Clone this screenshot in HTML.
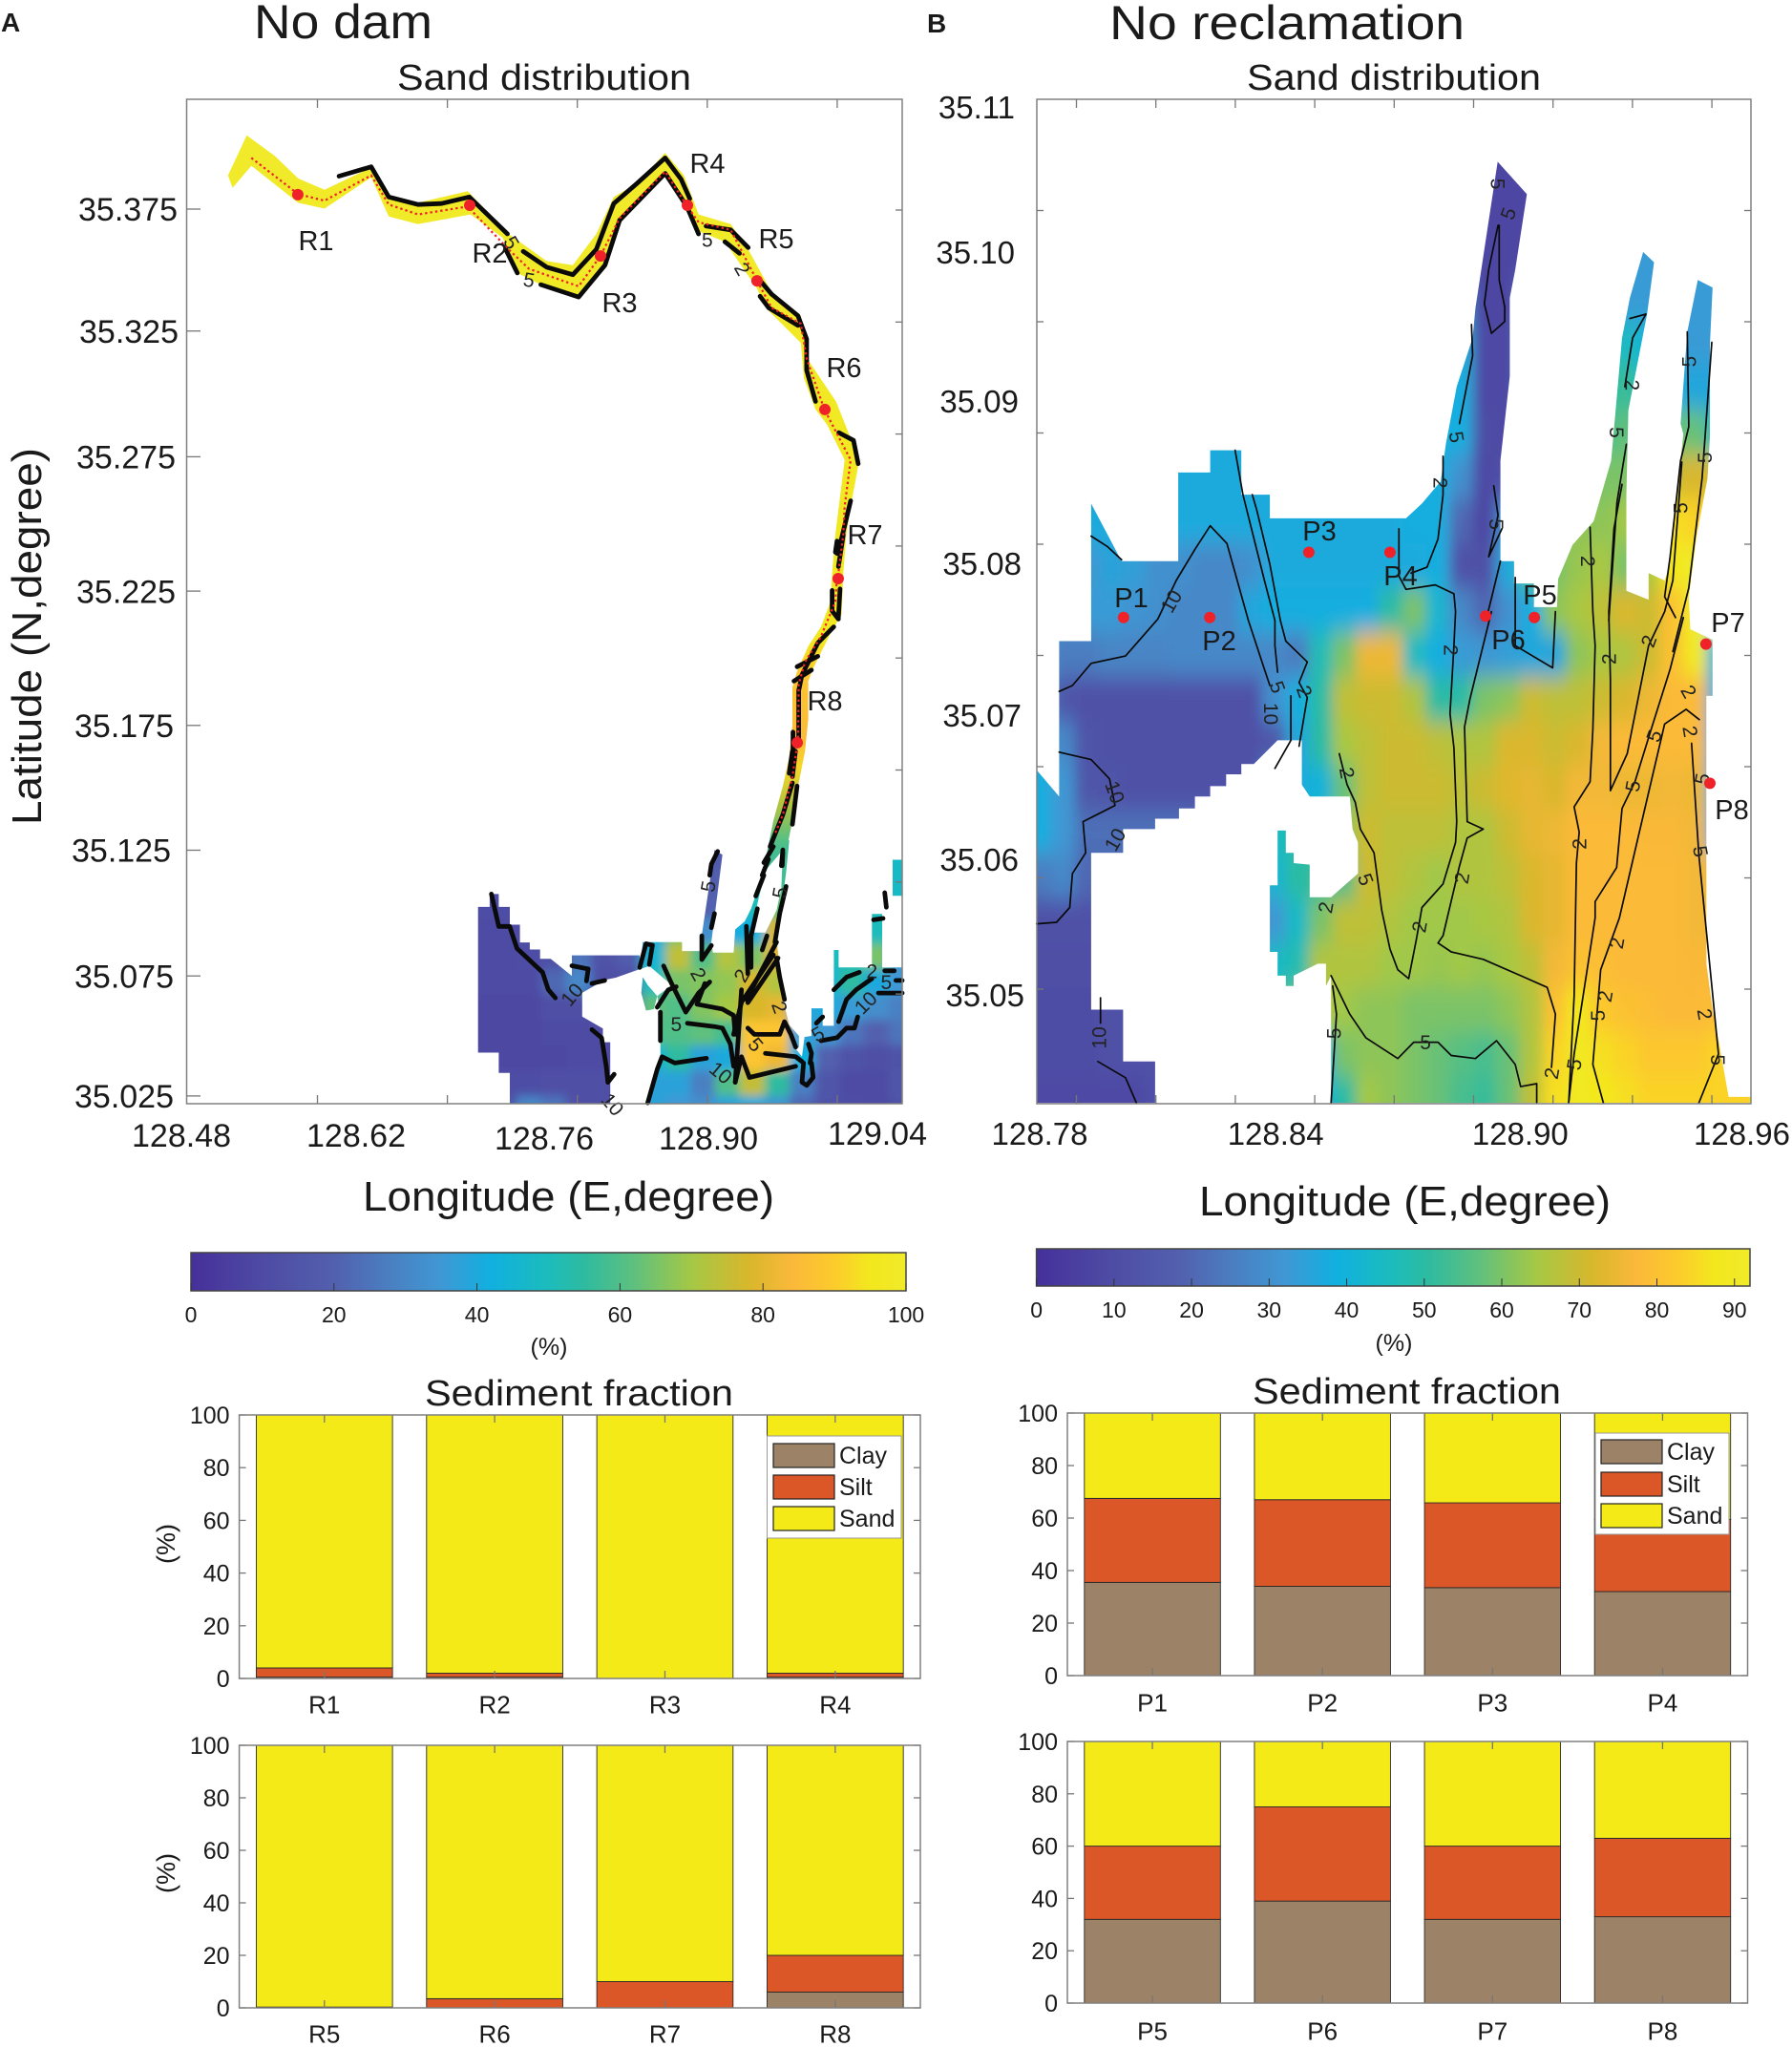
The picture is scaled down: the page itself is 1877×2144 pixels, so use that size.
<!DOCTYPE html>
<html lang="en">
<head>
<meta charset="utf-8">
<title>No dam / No reclamation sediment maps</title>
<style>
html,body{margin:0;padding:0;background:#fff}
svg{display:block;font-family:"Liberation Sans",sans-serif;fill:#1a1a1a}
</style>
</head>
<body>
<svg id="fig" xmlns="http://www.w3.org/2000/svg" width="1877" height="2144" viewBox="0 0 1877 2144">
<defs>
<filter id="blurL" filterUnits="userSpaceOnUse" x="300" y="700" width="800" height="600"><feGaussianBlur stdDeviation="5 5"/></filter>
<filter id="blurR" filterUnits="userSpaceOnUse" x="900" y="0" width="977" height="1400"><feGaussianBlur stdDeviation="7 12"/></filter>
<clipPath id="clipL"><path id="clipLPath" clip-rule="evenodd"/></clipPath>
<clipPath id="clipR"><path id="clipRPath" clip-rule="evenodd"/></clipPath>
<linearGradient id="barGradL" x1="0" x2="1" y1="0" y2="0"></linearGradient>
<linearGradient id="barGradR" x1="0" x2="1" y1="0" y2="0"></linearGradient>
<linearGradient id="stripGrad" gradientUnits="userSpaceOnUse" x1="0" x2="0"></linearGradient>
</defs>
<rect x="0" y="0" width="1877" height="2144" fill="#fff"/>

<text x="1" y="33" font-size="28" font-weight="bold">A</text>
<text x="971" y="34" font-size="28" font-weight="bold">B</text>
<text x="266" y="40" font-size="50" textLength="187" lengthAdjust="spacingAndGlyphs">No dam</text>
<text x="1162" y="41" font-size="50" textLength="372" lengthAdjust="spacingAndGlyphs">No reclamation</text>
<text x="416" y="94" font-size="38" textLength="308" lengthAdjust="spacingAndGlyphs">Sand distribution</text>
<text x="1306" y="94" font-size="38" textLength="308" lengthAdjust="spacingAndGlyphs">Sand distribution</text>
<text transform="translate(43,864) rotate(-90)" font-size="44" textLength="395" lengthAdjust="spacingAndGlyphs">Latitude (N,degree)</text>
<text x="380" y="1268" font-size="44" textLength="431" lengthAdjust="spacingAndGlyphs">Longitude (E,degree)</text>
<text x="1256" y="1273" font-size="44" textLength="431" lengthAdjust="spacingAndGlyphs">Longitude (E,degree)</text>

<g id="mapL"></g>
<g id="mapR"></g>
<g id="cbars"></g>

<text x="575" y="1419" font-size="25" text-anchor="middle">(%)</text>
<text x="1460" y="1415" font-size="25" text-anchor="middle">(%)</text>
<text x="445" y="1472" font-size="38" textLength="323" lengthAdjust="spacingAndGlyphs">Sediment fraction</text>
<text x="1312" y="1470" font-size="38" textLength="323" lengthAdjust="spacingAndGlyphs">Sediment fraction</text>
<text transform="translate(183,1617) rotate(-90)" font-size="27" text-anchor="middle">(%)</text>
<text transform="translate(183,1962) rotate(-90)" font-size="27" text-anchor="middle">(%)</text>

<g id="bars"></g>

<g>
<rect x="803.5" y="1504" width="140.5" height="107" fill="#fff" stroke="#999" stroke-width="1"/>
<rect x="810" y="1512" width="64" height="25" fill="#9c8266" stroke="#222" stroke-width="1.2"/>
<rect x="810" y="1545" width="64" height="25" fill="#dc5727" stroke="#222" stroke-width="1.2"/>
<rect x="810" y="1578" width="64" height="25" fill="#f3ea17" stroke="#222" stroke-width="1.2"/>
<text x="879" y="1533" font-size="25">Clay</text>
<text x="879" y="1566" font-size="25">Silt</text>
<text x="879" y="1599" font-size="25">Sand</text>
</g>
<g>
<rect x="1671" y="1501" width="140" height="106" fill="#fff" stroke="#999" stroke-width="1"/>
<rect x="1677" y="1508" width="64" height="25" fill="#9c8266" stroke="#222" stroke-width="1.2"/>
<rect x="1677" y="1542" width="64" height="25" fill="#dc5727" stroke="#222" stroke-width="1.2"/>
<rect x="1677" y="1575" width="64" height="25" fill="#f3ea17" stroke="#222" stroke-width="1.2"/>
<text x="1746" y="1529" font-size="25">Clay</text>
<text x="1746" y="1563" font-size="25">Silt</text>
<text x="1746" y="1596" font-size="25">Sand</text>
</g>
</svg>

<script>
/* ---------- sediment bars ---------- */
const barCatsA1 = ['R1','R2','R3','R4'];
const clayA1 = [0.5, 0.5, 0, 0.5];
const siltA1 = [3.5, 1.5, 0, 1.5];
const sandA1 = [96, 98, 100, 98];
const barCatsA2 = ['R5','R6','R7','R8'];
const clayA2 = [0, 0, 0, 6];
const siltA2 = [0.3, 3.5, 10, 14];
const sandA2 = [99.7, 96.5, 90, 80];
const barCatsB1 = ['P1','P2','P3','P4'];
const clayB1 = [35.5, 34, 33.5, 32];
const siltB1 = [32, 33, 32.3, 27.5];
const sandB1 = [32.5, 33, 34.2, 40.5];
const barCatsB2 = ['P5','P6','P7','P8'];
const clayB2 = [32, 39, 32, 33];
const siltB2 = [28, 36, 28, 30];
const sandB2 = [40, 25, 40, 37];
const barTicks = [0,20,40,60,80,100];

/* ---------- colorbar ---------- */
const cbTicksL = [0,20,40,60,80,100];
const cbTicksR = [0,10,20,30,40,50,60,70,80,90];
const cmapFrac = [0,.1,.2,.28,.35,.42,.5,.55,.62,.7,.78,.84,.9,.95,1];
const cmapHex = ['#45309a','#4e4ba4','#5260ae','#4a80c2','#3f98d4','#10b0e0','#1cbcbc','#2ebba0','#5fc07e','#a5c845','#d8b72c','#fbb83a','#fccb2c','#f3e81d','#f0ea2a'];

/* ---------- map A (No dam) ---------- */
const latTicksL = [35.375,35.325,35.275,35.225,35.175,35.125,35.075,35.025];
const lonTicksL = [128.48,128.62,128.76,128.90,129.04];
const stationNamesL = ['R1','R2','R3','R4','R5','R6','R7','R8'];
const stationLonL = [128.5738,128.7123,128.8177,128.8877,128.9438,128.9985,129.0092,128.9762];
const stationLatL = [35.3807,35.3765,35.3565,35.3765,35.3467,35.2959,35.2292,35.1644];
const heatLonL = [128.72,128.74,128.76,128.78,128.80,128.82,128.84,128.86,128.88,128.90,128.92,128.94,128.96,128.98,129.00,129.02,129.04,129.06];
const heatLatL = [35.12,35.11,35.10,35.09,35.08,35.07,35.06,35.05,35.04,35.03,35.02];
const heatL = [
[12,12,12,12,12,12,12,30,30,18,18,52,58,55,50,50,50,48],
[12,12,12,12,12,12,12,30,30,18,20,52,58,55,50,50,50,48],
[11,11,11,11,12,12,12,30,30,20,22,50,62,55,50,50,50,48],
[10,10,10,10,12,12,14,40,65,32,40,42,78,60,50,50,50,48],
[10,10,11,13,25,14,18,45,74,60,72,65,80,70,50,50,65,35],
[10,10,10,22,30,12,12,50,65,66,68,78,72,60,45,55,40,35],
[9,9,9,12,12,12,12,62,60,66,70,78,80,38,40,36,32,28],
[9,9,9,10,10,10,10,60,60,62,58,88,88,38,35,25,20,25],
[9,9,9,9,10,10,10,45,55,38,40,88,82,42,20,14,12,14],
[9,11,11,12,12,12,12,38,38,28,60,75,55,28,15,10,10,15],
[9,12,30,25,12,12,12,38,35,32,38,40,34,22,14,11,10,14]];
const maskL = [
[[128.7284,35.1047],[128.7357,35.1047],[128.7357,35.0996],[128.7446,35.0996],[128.7446,35.0926],[128.7528,35.0926],[128.7528,35.0856],[128.7607,35.0856],[128.7607,35.0828],[128.7690,35.0828],[128.7690,35.0791],[128.7775,35.0791],[128.7946,35.0724],[128.7946,35.0805],[128.8493,35.0805],[128.8491,35.0750],[128.8299,35.0717],[128.8211,35.0708],[128.8029,35.0657],[128.8029,35.0563],[128.8196,35.0516],[128.8196,35.0462],[128.8255,35.0462],[128.8255,35.0219],[128.7446,35.0219],[128.7446,35.0341],[128.7357,35.0341],[128.7357,35.0421],[128.7190,35.0421],[128.7190,35.0996],[128.7284,35.0996]],
[[128.8518,35.0857],[128.8834,35.0857],[128.8834,35.0822],[128.8993,35.0822],[128.8993,35.0885],[128.9095,35.1221],[128.9159,35.1202],[128.9070,35.0857],[128.9082,35.0816],[128.9249,35.0816],[128.9262,35.0907],[128.9339,35.0939],[128.9390,35.0989],[128.9518,35.1171],[128.9569,35.1259],[128.9698,35.1259],[128.9672,35.1133],[128.9634,35.0983],[128.9595,35.0870],[128.9646,35.0631],[128.9698,35.0531],[128.9775,35.0487],[128.9775,35.0443],[128.9749,35.0436],[128.9800,35.0405],[128.9821,35.0483],[128.9877,35.0487],[128.9877,35.0596],[128.9967,35.0596],[128.9967,35.0527],[129.0057,35.0527],[129.0057,35.0826],[129.0095,35.0826],[129.0095,35.0757],[129.0364,35.0757],[129.0364,35.0968],[129.0446,35.0968],[129.0446,35.0757],[129.0610,35.0757],[129.0610,35.0219],[128.8557,35.0219],[128.8659,35.0405],[128.8659,35.0581],[128.8634,35.0644],[128.8749,35.0688],[128.8570,35.0763],[128.8493,35.0750]],
[[128.9646,35.1221],[128.9505,35.1140],[128.9441,35.1008],[128.9416,35.0895],[128.9505,35.0895],[128.9595,35.0983],[128.9634,35.1071]],
[[128.8505,35.0656],[128.8544,35.0587],[128.8608,35.0593],[128.8634,35.0644],[128.8557,35.0688],[128.8518,35.0719]],
[[129.0531,35.1182],[129.0610,35.1182],[129.0610,35.1040],[129.0531,35.1040]]];
const stripLats = [35.40,35.205,35.19,35.165,35.155,35.14,35.125,35.115];
const stripSand = [100,96,88,85,92,72,60,55];
const stripOutline = [[128.5175,35.3883],[128.5326,35.4041],[128.5552,35.3960],[128.5741,35.3871],[128.5953,35.3826],[128.6329,35.3914],[128.6471,35.3798],[128.6706,35.3775],[128.7107,35.3821],[128.7436,35.3652],[128.7742,35.3545],[128.7954,35.3529],[128.8143,35.3652],[128.8284,35.3798],[128.8472,35.3852],[128.8698,35.3972],[128.8849,35.3883],[128.8967,35.3729],[128.9226,35.3691],[128.9367,35.3591],[128.9556,35.3421],[128.9791,35.3329],[128.9862,35.3145],[129.0074,35.2991],[129.0262,35.2760],[129.0192,35.2576],[129.0158,35.2465],[129.0133,35.2314],[129.0120,35.2151],[129.0030,35.2076],[128.9889,35.1937],[128.9851,35.1887],[128.9851,35.1737],[128.9825,35.1611],[128.9774,35.1485],[128.9723,35.1335],[128.9671,35.1209],[128.9517,35.1209],[128.9569,35.1335],[128.9646,35.1473],[128.9697,35.1586],[128.9723,35.1711],[128.9723,35.1862],[128.9761,35.1925],[128.9851,35.2025],[128.9953,35.2101],[129.0030,35.2201],[129.0043,35.2314],[129.0069,35.2465],[129.0097,35.2576],[129.0144,35.2760],[129.0003,35.2899],[128.9909,35.2960],[128.9815,35.3083],[128.9791,35.3222],[128.9509,35.3360],[128.9438,35.3437],[128.9179,35.3621],[128.8943,35.3668],[128.8849,35.3760],[128.8698,35.3891],[128.8331,35.3698],[128.8213,35.3545],[128.8001,35.3398],[128.7695,35.3452],[128.7507,35.3498],[128.7389,35.3637],[128.7130,35.3729],[128.6706,35.3691],[128.6471,35.3721],[128.6329,35.3875],[128.5953,35.3752],[128.5741,35.3775],[128.5364,35.3921],[128.5213,35.3834]];
const transectL = [[128.5364,35.3952],[128.5741,35.3809],[128.5953,35.3783],[128.6329,35.3883],[128.6471,35.3768],[128.6706,35.3729],[128.7107,35.3760],[128.7436,35.3591],[128.7601,35.3514],[128.8001,35.3445],[128.8176,35.3565],[128.8331,35.3714],[128.8698,35.3898],[128.8873,35.3763],[128.8967,35.3698],[128.9226,35.3668],[128.9438,35.3468],[128.9556,35.3360],[128.9791,35.3298],[128.9838,35.3160],[128.9980,35.2960],[129.0192,35.2760],[129.0144,35.2576],[129.0133,35.2465],[129.0094,35.2314],[129.0082,35.2295],[129.0069,35.2201],[128.9953,35.2063],[128.9825,35.1963],[128.9774,35.1875],[128.9769,35.1661],[128.9723,35.1510],[128.9646,35.1360],[128.9582,35.1284]];
const contoursL = [
[[128.6070,35.3880],[128.6329,35.3917],[128.6471,35.3798],[128.6706,35.3768],[128.6895,35.3772],[128.7120,35.3798],[128.7427,35.3652]],
[[128.7554,35.3583],[128.7742,35.3521],[128.7954,35.3491],[128.8143,35.3591],[128.8284,35.3772],[128.8472,35.3852],[128.8698,35.3952],[128.8826,35.3868],[128.8896,35.3791]],
[[128.8331,35.3706],[128.8698,35.3891],[128.8873,35.3760],[128.8967,35.3652]],
[[128.7413,35.3591],[128.7507,35.3498]],
[[128.7695,35.3452],[128.8001,35.3403],[128.8213,35.3529],[128.8331,35.3706]],
[[128.9028,35.3683],[128.9226,35.3668],[128.9367,35.3598]],
[[128.9179,35.3621],[128.9297,35.3575]],
[[128.9462,35.3468],[128.9556,35.3414],[128.9768,35.3329],[128.9838,35.3237],[128.9838,35.3114],[128.9909,35.2991]],
[[128.9462,35.3406],[128.9532,35.3360],[128.9768,35.3291]],
[[129.0097,35.2868],[129.0215,35.2837],[129.0253,35.2745]],
[[129.0192,35.2599],[129.0121,35.2453],[129.0083,35.2391]],
[[129.0133,35.2465],[129.0094,35.2339]],
[[129.0082,35.2440],[129.0069,35.2396]],
[[129.0043,35.2245],[129.0043,35.2164],[129.0094,35.2132]],
[[129.0107,35.2251],[129.0094,35.2138]],
[[129.0056,35.2101],[128.9928,35.2038],[128.9800,35.1912],[128.9774,35.1850],[128.9774,35.1661]],
[[128.9761,35.1944],[128.9928,35.1985]],
[[128.9735,35.1887],[128.9876,35.1931]],
[[128.9728,35.1686],[128.9728,35.1586]],
[[128.9723,35.1611],[128.9697,35.1523]],
[[128.9748,35.1611],[128.9723,35.1510]],
[[128.9723,35.1485],[128.9646,35.1360],[128.9543,35.1234]],
[[128.9761,35.1473],[128.9723,35.1322]],
[[128.9646,35.1209],[128.9641,35.1159]],
[[128.9530,35.1184],[128.9479,35.1121]],
[[128.9121,35.1215],[128.9070,35.1165],[128.9057,35.1121]],
[[128.9095,35.0970],[128.9070,35.0914]],
[[128.8993,35.0882],[128.8993,35.0788],[128.9070,35.0844]],
[[128.8685,35.0763],[128.8749,35.0694],[128.8864,35.0581],[128.8967,35.0656],[128.9057,35.0700]],
[[128.9018,35.0694],[128.8954,35.0612],[128.9159,35.0593],[128.9249,35.0568],[128.9262,35.0493]],
[[128.8634,35.0600],[128.8723,35.0669],[128.8787,35.0681]],
[[128.8659,35.0581],[128.8659,35.0468]],
[[128.8877,35.0537],[128.9095,35.0524],[128.9159,35.0518],[128.9223,35.0455],[128.9249,35.0367]],
[[128.8557,35.0223],[128.8634,35.0355],[128.8672,35.0405],[128.8775,35.0380],[128.9031,35.0399]],
[[128.9262,35.0304],[128.9313,35.0669]],
[[128.9262,35.0304],[128.9313,35.0405],[128.9377,35.0323],[128.9749,35.0367]],
[[128.9352,35.0631],[128.9595,35.0857]],
[[128.9364,35.0618],[128.9608,35.0794]],
[[128.9249,35.0493],[128.9313,35.0620],[128.9569,35.0807]],
[[128.9352,35.0920],[128.9364,35.0732]],
[[128.9441,35.0989],[128.9390,35.0882],[128.9390,35.0757]],
[[128.9493,35.1121],[128.9428,35.1039]],
[[128.9569,35.1234],[128.9493,35.1171]],
[[128.9672,35.1077],[128.9621,35.0970],[128.9582,35.0857]],
[[128.9646,35.1221],[128.9634,35.1159]],
[[128.9518,35.0882],[128.9480,35.0826]],
[[128.9595,35.0794],[128.9621,35.0719],[128.9659,35.0631]],
[[128.9364,35.0518],[128.9416,35.0493],[128.9621,35.0493],[128.9659,35.0543],[128.9711,35.0493],[128.9749,35.0443]],
[[128.9505,35.0418],[128.9749,35.0405],[128.9800,35.0386]],
[[128.9813,35.0380],[128.9800,35.0304],[128.9839,35.0292],[128.9890,35.0323],[128.9877,35.0380]],
[[128.9852,35.0455],[128.9877,35.0418],[128.9865,35.0380]],
[[128.9954,35.0468],[129.0082,35.0480],[129.0159,35.0518],[129.0223,35.0518],[129.0249,35.0562]],
[[129.0095,35.0543],[129.0159,35.0631],[129.0236,35.0669],[129.0364,35.0713]],
[[129.0057,35.0669],[129.0159,35.0719],[129.0262,35.0738]],
[[128.9916,35.0537],[128.9967,35.0562]],
[[129.0416,35.0656],[129.0608,35.0656]],
[[129.0377,35.0945],[129.0454,35.0951]],
[[129.0467,35.1052],[129.0480,35.0995]],
[[129.0467,35.0744],[129.0544,35.0744]],
[[129.0557,35.0706],[129.0608,35.0706]],
[[128.7298,35.1047],[128.7357,35.0919],[128.7445,35.0919],[128.7504,35.0832],[128.7710,35.0738],[128.7755,35.0670],[128.7813,35.0637]],
[[128.7946,35.0764],[128.8078,35.0751],[128.8064,35.0704]],
[[128.8108,35.0694],[128.8211,35.0706]],
[[128.8108,35.0512],[128.8185,35.0480],[128.8223,35.0367],[128.8236,35.0304],[128.8287,35.0336]],
[[128.8493,35.0757],[128.8544,35.0851],[128.8595,35.0845],[128.8570,35.0769]]];
const contourLabelsL = [['5',128.8787,35.0533,0],['5',128.9428,35.0453,50],['5',128.9928,35.0495,-30],['10',128.9146,35.0342,40],['10',129.0313,35.0618,-45],['2',128.9313,35.0725,-60],['2',129.0364,35.0742,0],['5',129.0480,35.0700,0],['2',128.8967,35.0731,60],['2',128.9621,35.0600,70],['10',128.8275,35.0217,50],['5',128.9621,35.1052,-80],['5',128.9044,35.1077,-80],['10',128.7946,35.0650,-50],['5',128.7460,35.3618,60],['5',128.7601,35.3471,10],['2',128.9320,35.3514,60],['5',128.9038,35.3629,0]];

/* ---------- map B (No reclamation) ---------- */
const latTicksR = [35.11,35.10,35.09,35.08,35.07,35.06,35.05];
const lonTicksR = [128.78,128.84,128.90,128.96];
const stationNamesR = ['P1','P2','P3','P4','P5','P6','P7','P8'];
const stationLonR = [128.8015,128.8236,128.8490,128.8698,128.9068,128.8943,128.9508,128.9518];
const stationLatR = [35.0755,35.0755,35.0799,35.0799,35.0755,35.0756,35.0737,35.0643];
const heatLonR = [128.78,128.786,128.792,128.798,128.804,128.81,128.816,128.822,128.828,128.834,128.84,128.846,128.852,128.858,128.864,128.87,128.876,128.882,128.888,128.894,128.9,128.906,128.912,128.918,128.924,128.93,128.936,128.942,128.948,128.954,128.96];
const heatLatR = [35.106,35.103,35.1,35.097,35.094,35.091,35.088,35.085,35.082,35.079,35.076,35.073,35.07,35.067,35.064,35.061,35.058,35.055,35.052,35.049,35.046,35.043,35.04];
const heatR = [
[30,30,30,30,30,30,30,30,30,30,30,30,30,30,30,30,30,30,8,8,8,8,33,33,33,33,33,33,33,33,33],
[30,30,30,30,30,30,30,30,30,30,30,30,30,30,30,30,30,30,8,8,8,8,33,33,33,33,33,33,33,33,33],
[30,30,30,30,30,30,30,30,30,30,30,30,30,30,30,30,30,30,8,8,8,8,33,33,33,33,33,33,33,33,33],
[30,30,30,30,30,30,30,30,30,30,30,30,30,30,30,30,30,30,30,8,8,30,30,30,30,33,33,33,33,33,33],
[30,30,30,30,30,30,30,30,30,30,30,30,30,30,30,30,37,37,38,9,9,37,37,37,45,45,40,33,33,33,33],
[30,30,30,30,30,30,30,30,30,30,30,30,30,30,30,30,37,38,38,9,9,38,45,48,50,52,45,38,36,36,36],
[37,37,37,37,37,37,37,37,37,37,37,37,37,37,37,37,38,38,38,10,9,38,48,52,55,57,57,58,58,45,40],
[37,37,37,37,37,37,37,37,37,37,37,37,37,37,37,37,38,38,30,9,12,38,55,58,60,60,70,70,72,70,70],
[28,30,37,37,37,37,37,37,37,37,37,37,37,37,37,37,38,38,20,8,30,40,58,62,62,64,85,86,84,78,78],
[30,30,32,35,34,30,30,28,28,30,37,37,37,37,37,37,37,38,12,12,37,55,60,63,65,60,65,88,92,85,85],
[28,30,33,33,31,30,28,28,28,36,38,38,38,38,38,50,60,42,28,20,30,38,62,65,68,72,70,80,92,92,40],
[36,25,25,27,27,27,28,28,28,28,28,25,47,60,75,75,45,38,33,32,34,36,36,62,65,66,70,80,90,40,40],
[36,14,12,12,12,12,12,12,12,12,30,38,50,68,70,70,66,50,50,60,62,70,68,68,70,72,75,78,78,38,38],
[36,28,13,12,12,12,12,12,12,12,14,36,50,65,68,70,70,68,66,66,72,72,70,72,76,78,78,78,78,38,38],
[38,32,14,13,12,12,12,12,12,12,37,37,40,58,68,70,70,70,68,70,73,74,72,76,76,75,75,76,75,38,38],
[38,32,22,22,22,22,22,22,22,22,45,48,50,62,70,68,68,68,66,66,70,74,75,78,78,78,77,77,76,38,38],
[25,28,20,20,20,20,20,20,20,30,42,50,52,55,70,68,66,64,66,66,68,72,74,78,78,78,78,78,76,76,76],
[12,12,12,12,12,12,12,12,12,25,32,44,60,68,68,66,64,64,64,65,66,72,74,78,78,78,78,78,76,76,76],
[11,11,11,11,11,11,11,11,11,30,44,48,66,66,66,64,64,63,64,63,65,68,76,80,79,78,78,78,77,77,77],
[10,10,10,12,12,12,12,12,12,40,50,60,66,64,62,62,60,60,60,60,62,66,80,88,82,80,79,78,78,79,79],
[10,10,10,12,12,12,12,12,12,38,38,38,38,60,62,62,60,58,56,54,58,66,84,90,86,84,82,82,82,84,84],
[9,9,9,9,9,12,12,12,12,38,38,38,38,50,64,62,60,58,54,52,58,68,86,90,88,86,84,84,84,84,84],
[9,9,9,9,9,12,12,12,12,38,38,38,38,50,64,62,60,58,54,52,58,68,86,90,88,86,84,84,84,84,84]];
const maskR = [[[128.7932,35.0832],[128.8010,35.0793],[128.8155,35.0793],[128.8155,35.0853],[128.8237,35.0853],[128.8237,35.0868],[128.8317,35.0868],[128.8317,35.0838],[128.8390,35.0838],[128.8390,35.0822],[128.8739,35.0822],[128.8780,35.0832],[128.8828,35.0847],[128.8841,35.0872],[128.8869,35.0911],[128.8910,35.0944],[128.8917,35.0964],[128.8974,35.1063],[128.9049,35.1041],[128.9019,35.0990],[128.9005,35.0971],[128.9005,35.0918],[128.8981,35.0861],[128.8981,35.0793],[128.9016,35.0793],[128.9016,35.0778],[128.9067,35.0778],[128.9067,35.0762],[128.9126,35.0762],[128.9129,35.0781],[128.9166,35.0804],[128.9220,35.0820],[128.9265,35.0861],[128.9293,35.0944],[128.9313,35.0971],[128.9347,35.1002],[128.9375,35.0995],[128.9357,35.0960],[128.9309,35.0895],[128.9304,35.0838],[128.9304,35.0773],[128.9361,35.0767],[128.9361,35.0785],[128.9402,35.0780],[128.9416,35.0791],[128.9443,35.0861],[128.9450,35.0879],[128.9443,35.0886],[128.9460,35.0948],[128.9487,35.0983],[128.9525,35.0978],[128.9518,35.0939],[128.9518,35.0877],[128.9512,35.0849],[128.9484,35.0810],[128.9464,35.0769],[128.9468,35.0747],[128.9525,35.0740],[128.9525,35.0702],[128.9509,35.0702],[128.9509,35.0521],[128.9525,35.0490],[128.9539,35.0471],[128.9566,35.0431],[128.9624,35.0431],[128.9624,35.0427],[128.8547,35.0427],[128.8547,35.0513],[128.8534,35.0506],[128.8534,35.0521],[128.8513,35.0521],[128.8451,35.0513],[128.8451,35.0506],[128.8431,35.0506],[128.8431,35.0513],[128.8410,35.0513],[128.8410,35.0529],[128.8390,35.0529],[128.8390,35.0574],[128.8410,35.0574],[128.8410,35.0611],[128.8431,35.0611],[128.8431,35.0596],[128.8451,35.0596],[128.8451,35.0589],[128.8492,35.0588],[128.8492,35.0566],[128.8547,35.0566],[128.8616,35.0582],[128.8616,35.0603],[128.8602,35.0612],[128.8595,35.0634],[128.8492,35.0634],[128.8472,35.0642],[128.8472,35.0672],[128.8410,35.0672],[128.8349,35.0656],[128.8317,35.0656],[128.8317,35.0649],[128.8278,35.0649],[128.8278,35.0641],[128.8237,35.0641],[128.8237,35.0634],[128.8198,35.0634],[128.8198,35.0626],[128.8157,35.0626],[128.8157,35.0619],[128.8096,35.0619],[128.8096,35.0612],[128.8014,35.0612],[128.8014,35.0596],[128.7932,35.0596],[128.7932,35.0490],[128.8014,35.0490],[128.8014,35.0455],[128.8096,35.0455],[128.8096,35.0427],[128.7792,35.0427],[128.7792,35.0652],[128.7850,35.0634],[128.7850,35.0739],[128.7932,35.0739]]];
const contoursR = [
[[128.8975,35.1020],[128.8951,35.0990],[128.8940,35.0967],[128.8958,35.0947],[128.8992,35.0955],[128.8992,35.0965],[128.8978,35.0983],[128.8978,35.1020]],
[[128.8907,35.0953],[128.8910,35.0932],[128.8876,35.0886]],
[[128.8834,35.0864],[128.8834,35.0838],[128.8821,35.0808],[128.8793,35.0789],[128.8752,35.0785]],
[[128.8721,35.0815],[128.8721,35.0783],[128.8739,35.0774],[128.8814,35.0777],[128.8862,35.0771],[128.8866,35.0759],[128.8862,35.0736],[128.8852,35.0690],[128.8862,35.0667],[128.8869,35.0617],[128.8866,35.0603],[128.8834,35.0575],[128.8780,35.0559],[128.8766,35.0538],[128.8746,35.0511],[128.8718,35.0517],[128.8698,35.0531],[128.8677,35.0557],[128.8657,35.0596],[128.8622,35.0612],[128.8609,35.0630],[128.8588,35.0642],[128.8568,35.0663]],
[[128.8958,35.0759],[128.8903,35.0700],[128.8889,35.0681],[128.8896,35.0617],[128.8937,35.0612],[128.8896,35.0606],[128.8876,35.0587],[128.8834,35.0540],[128.8821,35.0535],[128.8855,35.0529],[128.8937,35.0524],[128.9033,35.0513],[128.9101,35.0505],[128.9122,35.0487],[128.9112,35.0451]],
[[128.8547,35.0513],[128.8595,35.0487],[128.8636,35.0471],[128.8718,35.0457],[128.8759,35.0468],[128.8821,35.0468],[128.8855,35.0459],[128.8917,35.0457],[128.8971,35.0469],[128.9019,35.0453],[128.9033,35.0438],[128.9074,35.0440],[128.9074,35.0427]],
[[128.8551,35.0506],[128.8561,35.0487],[128.8547,35.0427]],
[[128.9211,35.0816],[128.9218,35.0759],[128.9224,35.0736],[128.9218,35.0679],[128.9211,35.0644],[128.9170,35.0627],[128.9183,35.0610],[128.9176,35.0589],[128.9170,35.0499],[128.9156,35.0427]],
[[128.9293,35.0845],[128.9272,35.0815],[128.9259,35.0759],[128.9263,35.0713],[128.9263,35.0638],[128.9306,35.0663],[128.9361,35.0736],[128.9402,35.0759],[128.9423,35.0780],[128.9446,35.0860]],
[[128.9156,35.0427],[128.9170,35.0460],[128.9224,35.0552],[128.9224,35.0563],[128.9279,35.0586],[128.9293,35.0626],[128.9326,35.0644],[128.9367,35.0679],[128.9416,35.0720],[128.9450,35.0755]],
[[128.9245,35.0427],[128.9218,35.0453],[128.9238,35.0517],[128.9286,35.0552],[128.9347,35.0621],[128.9402,35.0683],[128.9457,35.0693],[128.9491,35.0686]],
[[128.9523,35.0941],[128.9505,35.0875],[128.9498,35.0849],[128.9464,35.0775],[128.9423,35.0732]],
[[128.9460,35.0948],[128.9464,35.0884],[128.9443,35.0861],[128.9416,35.0796],[128.9402,35.0769],[128.9430,35.0755]],
[[128.9471,35.0670],[128.9490,35.0594],[128.9523,35.0506],[128.9540,35.0460],[128.9490,35.0427]],
[[128.7932,35.0810],[128.7973,35.0803],[128.8010,35.0794]],
[[128.7850,35.0705],[128.7884,35.0709],[128.7932,35.0724],[128.8020,35.0729],[128.8103,35.0754],[128.8150,35.0780],[128.8198,35.0801],[128.8237,35.0817],[128.8280,35.0805],[128.8335,35.0753],[128.8376,35.0720],[128.8390,35.0709]],
[[128.8301,35.0868],[128.8321,35.0838],[128.8376,35.0780],[128.8403,35.0753],[128.8403,35.0736],[128.8410,35.0718]],
[[128.8345,35.0838],[128.8356,35.0828],[128.8390,35.0791],[128.8417,35.0753],[128.8431,35.0739],[128.8486,35.0725],[128.8465,35.0711],[128.8486,35.0701],[128.8465,35.0668]],
[[128.8444,35.0702],[128.8444,35.0672],[128.8403,35.0653]],
[[128.7850,35.0664],[128.7932,35.0659],[128.7979,35.0646],[128.7993,35.0628],[128.7911,35.0617],[128.7918,35.0596],[128.7884,35.0582],[128.7877,35.0559],[128.7843,35.0549],[128.7792,35.0548]],
[[128.7956,35.0498],[128.7956,35.0481]],
[[128.7949,35.0455],[128.8020,35.0444],[128.8048,35.0427]],
[[128.9313,35.0957],[128.9354,35.0960],[128.9320,35.0944],[128.9300,35.0911]],
[[128.9304,35.0872],[128.9280,35.0833],[128.9259,35.0753]],
[[128.9019,35.0782],[128.9019,35.0736],[128.9115,35.0721],[128.9122,35.0759]],
[[128.8964,35.0844],[128.8975,35.0824],[128.8951,35.0796],[128.8985,35.0815]],
[[128.8981,35.0793],[128.8959,35.0769],[128.8944,35.0753]]];
const contourLabelsR = [['5',128.8974,35.1048,90],['5',128.9001,35.1028,-70],['5',128.8869,35.0877,80],['5',128.8971,35.0818,90],['2',128.8828,35.0846,90],['10',128.8137,35.0766,-60],['5',128.9279,35.0880,90],['2',128.9320,35.0912,90],['2',128.9206,35.0793,90],['5',128.9443,35.0829,-90],['5',128.9505,35.0863,-90],['5',128.9464,35.0928,-90],['2',128.8855,35.0733,90],['2',128.9259,35.0727,-90],['2',128.9361,35.0739,-70],['5',128.8410,35.0708,70],['2',128.8479,35.0705,70],['10',128.8393,35.0690,90],['2',128.8588,35.0650,80],['10',128.7993,35.0637,70],['10',128.7993,35.0605,-60],['5',128.8636,35.0578,70],['2',128.8533,35.0559,-80],['2',128.8882,35.0579,-80],['2',128.8773,35.0546,-80],['2',128.9279,35.0535,-80],['2',128.9464,35.0705,60],['2',128.9468,35.0678,80],['5',128.9375,35.0675,-70],['5',128.9320,35.0641,-80],['2',128.9183,35.0602,-90],['5',128.9498,35.0646,-80],['5',128.9494,35.0597,80],['2',128.9249,35.0499,-80],['5',128.9231,35.0486,-90],['5',128.8554,35.0474,-90],['5',128.8789,35.0468,0],['10',128.7952,35.0471,-90],['2',128.9112,35.0447,-80],['5',128.9170,35.0453,-80],['2',128.9505,35.0487,80],['5',128.9539,35.0456,90]];

/* ---------- helpers ---------- */
const NS = 'http://www.w3.org/2000/svg';
function mk(tag, attrs, parent) {
  const el = document.createElementNS(NS, tag);
  for (const k in attrs) el.setAttribute(k, attrs[k]);
  if (parent) parent.appendChild(el);
  return el;
}
function hexRgb(h) { return [parseInt(h.slice(1,3),16),parseInt(h.slice(3,5),16),parseInt(h.slice(5,7),16)]; }
function cmap(f) {
  f = Math.max(0, Math.min(1, f));
  for (let i = 1; i < cmapFrac.length; i++) {
    if (f <= cmapFrac[i]) {
      const t = (f - cmapFrac[i-1]) / (cmapFrac[i] - cmapFrac[i-1]);
      const a = hexRgb(cmapHex[i-1]), b = hexRgb(cmapHex[i]);
      return 'rgb(' + a.map((v, n) => Math.round(v + (b[n] - v) * t)).join(',') + ')';
    }
  }
  return cmapHex[cmapHex.length - 1];
}

/* axis functions */
const xL = lon => 190 + (lon - 128.48) * 1300;
const yL = lat => 219 + (35.375 - lat) * 2654;
const xR = lon => 1089 + (lon - 128.78) * 4086;
const yR = lat => 112 + (35.11 - lat) * 15500;
const ptsStr = (pts, fx, fy) => pts.map(p => fx(p[0]).toFixed(1) + ',' + fy(p[1]).toFixed(1)).join(' ');
const pathOf = (polys, fx, fy) => polys.map(poly => 'M' + ptsStr(poly, fx, fy).replace(/ /g, 'L') + 'Z').join('');

/* ---------- colorbars ---------- */
const cbHost = document.getElementById('cbars');
function drawColorbar(gradId, left, top, width, height, maxV, ticks, labelY, nm) {
  const grad = document.getElementById(gradId);
  for (let i = 0; i < cmapFrac.length; i++) mk('stop', {offset: cmapFrac[i], 'stop-color': cmapHex[i]}, grad);
  const xv = v => left + v / maxV * width;
  const bar = mk('rect', {x: left, y: top, width: width, height: height, fill: 'url(#' + gradId + ')', stroke: '#444', 'stroke-width': 1.5}, cbHost);
  
  
  ticks.forEach(v => {
    const t = mk('line', {x1: xv(v), x2: xv(v), y1: top + height, y2: top + height - 8, stroke: '#333', 'stroke-width': 1}, cbHost);
    
    
    const lab = mk('text', {x: xv(v), y: labelY + 8, 'font-size': 23, 'text-anchor': 'middle'}, cbHost);
    
    
    lab.textContent = v;
  });
}
drawColorbar('barGradL', 200, 1312, 749, 40, 100, cbTicksL, 1377, 'colorbar-a');
drawColorbar('barGradR', 1085.6, 1308, 747.4, 39, 92, cbTicksR, 1372, 'colorbar-b');

/* ---------- map drawing ---------- */
function drawHeat(parent, filterId, clipId, lons, lats, grid, fx, fy, maxV, name) {
  const clip = mk('g', {'clip-path': 'url(#' + clipId + ')'}, parent);
  
  
  const blur = mk('g', {filter: 'url(#' + filterId + ')'}, clip);
  const dx = Math.abs(fx(lons[1]) - fx(lons[0]));
  const dy = Math.abs(fy(lats[1]) - fy(lats[0]));
  grid.forEach((row, j) => row.forEach((v, i) => {
    const ext = 70;
    let x0 = fx(lons[i]) - dx / 2, w = dx + 0.6, y0 = fy(lats[j]) - dy / 2, h = dy + 0.6;
    if (i === 0) { x0 -= ext; w += ext; }
    if (i === row.length - 1) { w += ext; }
    if (j === 0) { y0 -= ext; h += ext; }
    if (j === grid.length - 1) { h += ext; }
    const c = mk('rect', {x: x0.toFixed(1), y: y0.toFixed(1), width: w.toFixed(1), height: h.toFixed(1), fill: cmap(v / maxV)}, blur);
    
    
  }));
}
function drawContours(parent, lines, labels, fx, fy, sw, fs, name) {
  lines.forEach(line => {
    const p = mk('polyline', {points: ptsStr(line, fx, fy), fill: 'none', stroke: '#0a0a0a', 'stroke-width': sw, 'stroke-linejoin': 'round', 'stroke-linecap': 'round'}, parent);
    
    
  });
  labels.forEach(l => {
    const t = mk('text', {transform: 'translate(' + fx(l[1]).toFixed(1) + ',' + fy(l[2]).toFixed(1) + ') rotate(' + l[3] + ')', 'font-size': fs, 'text-anchor': 'middle', dy: '.35em', fill: '#222'}, parent);
    
    
    t.textContent = l[0];
  });
}
function drawStations(parent, names, lons, lats, fx, fy, labelPos, name) {
  names.forEach((n, i) => {
    const c = mk('ellipse', {cx: fx(lons[i]), cy: fy(lats[i]), rx: 6, ry: 6, fill: '#ee2228'}, parent);
    
    
    const t = mk('text', {x: labelPos[i][0], y: labelPos[i][1] + 10, 'font-size': 29, 'text-anchor': 'middle'}, parent);
    
    
    t.textContent = n;
  });
}
function drawFrame(parent, L, T, R, B, name) {
  const f = mk('rect', {x: L, y: T, width: R - L, height: B - T, fill: 'none', stroke: '#808080', 'stroke-width': 1.5}, parent);
  
  
}
function tick(parent, x1, y1, x2, y2, name) {
  const t = mk('line', {x1, y1, x2, y2, stroke: '#777', 'stroke-width': 1.3}, parent);
  
  
}
function axisLabel(parent, txt, x, y, anchor, size, name) {
  const t = mk('text', {x, y: y + size * 0.36, 'font-size': size, 'text-anchor': anchor}, parent);
  
  
  t.textContent = txt;
}

/* Map A */
const mapL = document.getElementById('mapL');
document.getElementById('clipLPath').setAttribute('d', pathOf(maskL, xL, yL));
drawHeat(mapL, 'blurL', 'clipL', heatLonL, heatLatL, heatL, xL, yL, 100, 'map-a');
const stripGrad = document.getElementById('stripGrad');
stripGrad.setAttribute('y1', yL(stripLats[0]));
stripGrad.setAttribute('y2', yL(stripLats[stripLats.length - 1]));
stripLats.forEach((la, i) => {
  mk('stop', {offset: (la - stripLats[0]) / (stripLats[stripLats.length - 1] - stripLats[0]), 'stop-color': cmap(stripSand[i] / 100)}, stripGrad);
});
const strip = mk('polygon', {points: ptsStr(stripOutline, xL, yL), fill: 'url(#stripGrad)'}, mapL);


drawContours(mapL, contoursL, contourLabelsL, xL, yL, 4.8, 21, 'map-a');
const trTop = mk('polyline', {points: ptsStr(transectL, xL, yL), fill: 'none', stroke: '#ee2228', 'stroke-width': 2.2, 'stroke-dasharray': '2.4 3'}, mapL);


drawFrame(mapL, 195.5, 104, 945, 1156, 'map-a');
for (let k = 0; k < 5; k++) {
  const x = 332.5 + 136.1 * k;
  tick(mapL, x, 104, x, 113, 'map-a-top-tick');
  tick(mapL, x, 1156, x, 1147, 'map-a-bottom-tick');
}
for (let k = 0; k < 8; k++) {
  const y = 220 + 117.3 * k;
  tick(mapL, 945, y, 938, y, 'map-a-right-tick');
}
const latNudgeL = [0,-5,-6,2,10,8,7,0];
const latEndL = [186,187,184,184,182,179,182,182];
latTicksL.forEach((v, i) => {
  const y = yL(v) + latNudgeL[i];
  tick(mapL, 195.5, y, 210, y, 'map-a-left-tick');
  axisLabel(mapL, v.toFixed(3), latEndL[i], y, 'end', 34, 'map-a-lat-label');
});
const lonNudgeL = [0,1,16,6,1];
const lonLabelYL = [1189,1189,1192,1192,1187];
lonTicksL.forEach((v, i) => axisLabel(mapL, v.toFixed(2), xL(v) + lonNudgeL[i], lonLabelYL[i], 'middle', 34, 'map-a-lon-label'));
drawStations(mapL, stationNamesL, stationLonL, stationLatL, xL, yL,
  [[331,252],[513,265],[649,317],[741,171],[813,250],[884,385],[906,560],[864,734]], 'map-a');

/* Map B */
const mapR = document.getElementById('mapR');
document.getElementById('clipRPath').setAttribute('d', pathOf(maskR, xR, yR));
drawHeat(mapR, 'blurR', 'clipR', heatLonR, heatLatR, heatR, xR, yR, 92, 'map-b');
drawContours(mapR, contoursR, contourLabelsR, xR, yR, 1.7, 21, 'map-b');
drawFrame(mapR, 1086, 104, 1834, 1156, 'map-b');
for (let k = 0; k < 9; k++) {
  const x = 1127.5 + 83.2 * k;
  tick(mapR, x, 104, x, 113, 'map-b-top-tick');
  tick(mapR, x, 1156, x, 1147, 'map-b-bottom-tick');
}
for (let k = 1; k < 9; k++) {
  const y = 104 + 116.5 * k;
  tick(mapR, 1086, y, 1093, y, 'map-b-left-tick');
  tick(mapR, 1834, y, 1827, y, 'map-b-right-tick');
}
const latNudgeR = [0,-3,-2,13,17,13,0];
const latEndR = [1063,1063,1067,1070,1070,1067,1073];
latTicksR.forEach((v, i) => axisLabel(mapR, v.toFixed(2), latEndR[i], yR(v) + latNudgeR[i], 'end', 33, 'map-b-lat-label'));
const lonNudgeR = [0,2,13,0];
lonTicksR.forEach((v, i) => axisLabel(mapR, v.toFixed(2), xR(v) + lonNudgeR[i], 1187, 'middle', 33, 'map-b-lon-label'));
drawStations(mapR, stationNamesR, stationLonR, stationLatR, xR, yR,
  [[1185,626],[1277,671],[1382,556],[1467,603],[1613,623],[1580,670],[1810,652],[1814,848]], 'map-b');

/* ---------- bar charts ---------- */
const barsHost = document.getElementById('bars');
function drawBars(cats, clay, silt, sand, L, R, T, B, labelY, name) {
  const g = mk('g', {}, barsHost);
  
  
  const band = (R - L) / cats.length;
  const xc = i => L + (i + 0.5) * band;
  const yv = v => B - v / 100 * (B - T);
  const bw = band * 0.8;
  const stacks = [[clay, '#9c8266', 'clay'], [silt, '#dc5727', 'silt'], [sand, '#f3ea17', 'sand']];
  cats.forEach((c, i) => {
    let base = 0;
    stacks.forEach(s => {
      const v = s[0][i];
      if (v > 0) {
        const r = mk('rect', {x: xc(i) - bw / 2, y: yv(base + v), width: bw, height: yv(base) - yv(base + v), fill: s[1], stroke: '#2a2a2a', 'stroke-width': 0.9}, g);
        
        
      }
      base += v;
    });
    tick(g, xc(i), B, xc(i), B - 8, name + '-x-tick');
    tick(g, xc(i), T, xc(i), T + 8, name + '-x-tick-top');
    axisLabel(g, c, xc(i), labelY, 'middle', 26, name + '-x-label');
  });
  barTicks.forEach(v => {
    tick(g, L, yv(v), L + 7, yv(v), name + '-y-tick');
    tick(g, R, yv(v), R - 7, yv(v), name + '-y-tick-right');
    axisLabel(g, v, L - 10, yv(v), 'end', 25, name + '-y-label');
  });
  drawFrame(g, L, T, R, B, name);
}
drawBars(barCatsA1, clayA1, siltA1, sandA1, 250.6, 964, 1482, 1758, 1785, 'bars-a-top');
drawBars(barCatsA2, clayA2, siltA2, sandA2, 250.6, 964, 1828, 2103, 2130, 'bars-a-bottom');
drawBars(barCatsB1, clayB1, siltB1, sandB1, 1118, 1830.5, 1480, 1755, 1783, 'bars-b-top');
drawBars(barCatsB2, clayB2, siltB2, sandB2, 1118, 1830.5, 1824, 2098, 2127, 'bars-b-bottom');
</script>
</body>
</html>
